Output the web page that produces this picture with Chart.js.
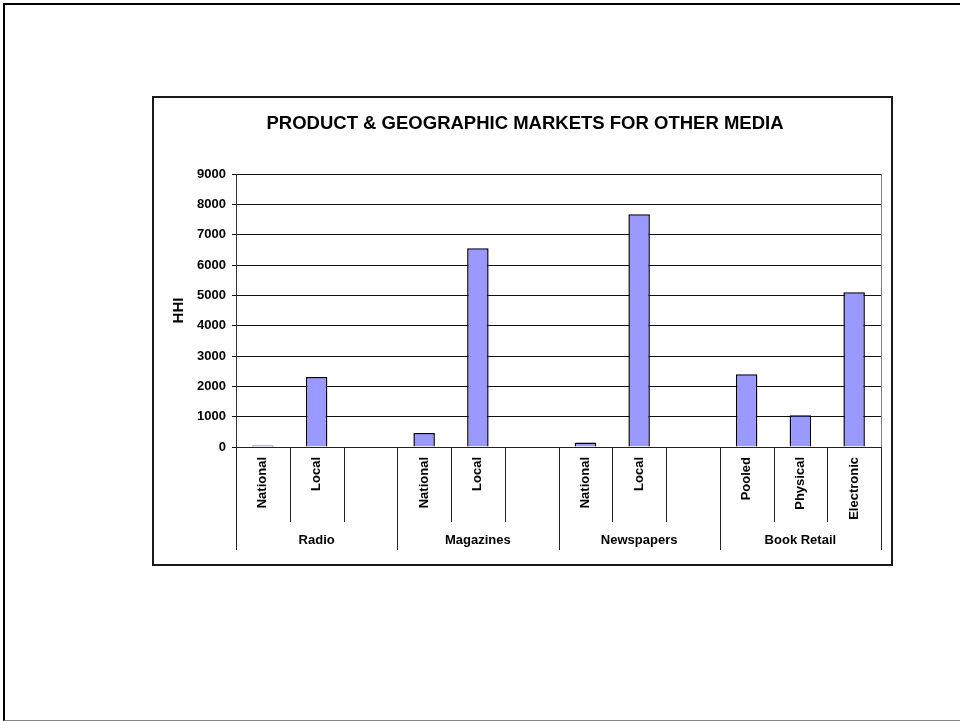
<!DOCTYPE html>
<html>
<head>
<meta charset="utf-8">
<title>HHI by media market</title>
<script src="https://cdn.jsdelivr.net/npm/chart.js@4.4.1/dist/chart.umd.min.js"></script>
<style>
  html, body { margin: 0; padding: 0; background: #fff; overflow: hidden; }
  body { width: 960px; height: 721px; position: relative; }
  .slide { position: absolute; left: 3px; top: 3px; width: 1000px; height: 715px;
           border-left: 2px solid #000; border-top: 2px solid #000; border-bottom: 1px solid #888; }
  .frame { position: absolute; left: 152px; top: 96px; width: 737px; height: 466px; border: 2px solid #1a1a1a; }
  #chart { position: absolute; left: 0; top: 0; }
</style>
</head>
<body>
<div class="slide"></div>
<div class="frame"></div>
<canvas id="chart" width="960" height="721"></canvas>
<script>
document.addEventListener('DOMContentLoaded', function () {

    const FONT = '"Liberation Sans", Arial, sans-serif';

    // market groups, each covering groupSize columns (last column of the first three is empty)
    const groups = ['Radio', 'Magazines', 'Newspapers', 'Book Retail'];
    const groupSize = 3;
    const subLabels = ['National', 'Local', '', 'National', 'Local', '', 'National', 'Local', '', 'Pooled', 'Physical', 'Electronic'];
    const hhi = [50, 2310, null, 460, 6550, null, 150, 7670, null, 2400, 1050, 5100];
    const yTicks = [0, 1000, 2000, 3000, 4000, 5000, 6000, 7000, 8000, 9000];

    // column separators under the axis plus the group names
    const groupAxis = {
        id: 'groupAxis',
        afterDraw(chart) {
            const { ctx, chartArea, scales: { x } } = chart;
            const half = (x.getPixelForValue(1) - x.getPixelForValue(0)) / 2;
            ctx.save();
            ctx.lineWidth = 1;

            // plot area right edge
            ctx.strokeStyle = '#808080';
            ctx.beginPath();
            ctx.moveTo(Math.round(chartArea.right) + 0.5, chartArea.top);
            ctx.lineTo(Math.round(chartArea.right) + 0.5, chartArea.bottom);
            ctx.stroke();

            ctx.strokeStyle = '#222';
            for (let i = 0; i <= subLabels.length; i++) {
                const px = Math.round(x.getPixelForValue(i) - half) + 0.5;
                const len = i % groupSize === 0 ? 103 : 75;
                ctx.beginPath();
                ctx.moveTo(px, chartArea.bottom);
                ctx.lineTo(px, chartArea.bottom + len);
                ctx.stroke();
            }

            ctx.fillStyle = '#000';
            ctx.font = 'bold 13px ' + FONT;
            ctx.textAlign = 'center';
            ctx.textBaseline = 'middle';
            groups.forEach((g, gi) => {
                const a = x.getPixelForValue(gi * groupSize) - half;
                const b = x.getPixelForValue(gi * groupSize + groupSize - 1) + half;
                ctx.fillText(g, (a + b) / 2, chartArea.bottom + 93);
            });
            ctx.restore();
        }
    };

    new Chart(document.getElementById('chart').getContext('2d'), {
        type: 'bar',
        data: {
            labels: subLabels,
            datasets: [{
                label: 'HHI',
                data: hhi,
                backgroundColor: '#9999FF',
                borderColor: '#000',
                borderWidth: 1.5,
                barPercentage: 0.4,
                categoryPercentage: 1
            }]
        },
        options: {
            responsive: false,
            animation: false,
            layout: { padding: { left: 169, right: 79, top: 110, bottom: 154 } },
            plugins: {
                legend: { display: false },
                tooltip: { enabled: false },
                title: {
                    display: true,
                    text: 'PRODUCT & GEOGRAPHIC MARKETS FOR OTHER MEDIA',
                    color: '#000',
                    font: { family: FONT, size: 18.5, weight: 'bold' },
                    padding: { top: 3, bottom: 38.8 }
                }
            },
            scales: {
                x: {
                    afterFit: s => { s.height = 120; },
                    grid: { display: false },
                    border: { display: true, color: '#222' },
                    ticks: {
                        color: '#000',
                        font: { family: FONT, size: 13, weight: 'bold' },
                        minRotation: 90,
                        maxRotation: 90,
                        autoSkip: false,
                        padding: 2
                    }
                },
                y: {
                    min: 0,
                    max: 9000,
                    afterFit: s => { s.width = 67; },
                    afterBuildTicks: s => { s.ticks = yTicks.map(v => ({ value: v })); },
                    grid: { color: '#111', tickLength: 4 },
                    border: { color: '#333' },
                    ticks: {
                        color: '#000',
                        font: { family: FONT, size: 13, weight: 'bold' },
                        padding: 6,
                        callback: v => String(v)
                    },
                    title: {
                        display: true,
                        text: 'HHI',
                        color: '#000',
                        font: { family: FONT, size: 15, weight: 'bold' },
                        padding: { top: 1, bottom: 0 }
                    }
                }
            }
        },
        plugins: [groupAxis]
    });
});
</script>
</body>
</html>
